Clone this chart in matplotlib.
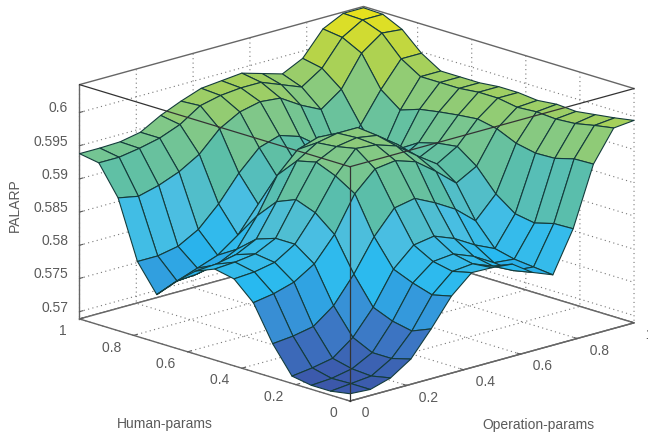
import numpy as np
import matplotlib
matplotlib.use("Agg")
import matplotlib.pyplot as plt
from matplotlib.colors import LinearSegmentedColormap

# axis values (15 x 15 grid like gensurf)
operation = [i / 14 for i in range(15)]
human = [i / 14 for i in range(15)]

# PALARP, rows = Human-params, columns = Operation-params
h00 = [.5700, .5698, .5707, .5727, .5764, .5805, .5832, .5831, .5828, .5807, .5795, .5856, .5945, .5991, .5994]
h01 = [.5695, .5698, .5701, .5719, .5752, .5798, .5825, .5828, .5816, .5801, .5798, .5855, .5944, .5986, .5989]
h02 = [.5695, .5697, .5703, .5719, .5758, .5807, .5831, .5834, .5822, .5804, .5801, .5847, .5936, .5980, .5985]
h03 = [.5700, .5704, .5710, .5733, .5770, .5819, .5847, .5852, .5840, .5822, .5808, .5852, .5935, .5978, .5981]
h04 = [.5740, .5743, .5749, .5772, .5811, .5859, .5894, .5900, .5885, .5867, .5841, .5873, .5941, .5980, .5983]
h05 = [.5793, .5798, .5807, .5826, .5862, .5915, .5944, .5948, .5938, .5915, .5889, .5906, .5954, .5978, .5980]
h06 = [.5820, .5822, .5828, .5847, .5886, .5933, .5966, .5963, .5953, .5930, .5909, .5927, .5960, .5983, .5983]
h07 = [.5826, .5828, .5832, .5847, .5897, .5945, .5960, .5965, .5960, .5938, .5908, .5923, .5957, .5983, .5983]
h08 = [.5814, .5816, .5822, .5837, .5885, .5938, .5957, .5963, .5963, .5938, .5897, .5915, .5953, .5980, .5980]
h09 = [.5790, .5792, .5798, .5813, .5855, .5908, .5938, .5948, .5938, .5915, .5873, .5897, .5948, .5980, .5980]
h10 = [.5761, .5773, .5784, .5795, .5817, .5855, .5885, .5893, .5882, .5862, .5855, .5877, .5938, .5980, .5980]
h11 = [.5802, .5802, .5808, .5825, .5855, .5893, .5923, .5933, .5923, .5900, .5877, .5915, .5960, .5998, .5998]
h12 = [.5889, .5883, .5891, .5903, .5921, .5951, .5968, .5975, .5972, .5953, .5938, .5960, .6006, .6028, .6025]
h13 = [.5933, .5933, .5938, .5945, .5957, .5977, .5984, .5987, .5987, .5975, .5963, .5983, .6021, .6039, .6039]
h14 = [.5938, .5938, .5939, .5945, .5962, .5975, .5986, .5989, .5992, .5983, .5974, .5989, .6025, .6040, .6040]
palarp = [h00, h01, h02, h03, h04, h05, h06, h07, h08, h09, h10, h11, h12, h13, h14]

xy_ticks = [0, 0.2, 0.4, 0.6, 0.8, 1]
xy_labels = ["0", "0.2", "0.4", "0.6", "0.8", "1"]
z_ticks = [0.57, 0.575, 0.58, 0.585, 0.59, 0.595, 0.6]
z_labels = ["0.57", "0.575", "0.58", "0.585", "0.59", "0.595", "0.6"]
z_min, z_max = 0.5689, 0.6042

plt.rcParams["font.family"] = ["Liberation Sans", "DejaVu Sans"]
grey = "#5a5a5a"

cmap = LinearSegmentedColormap.from_list("surf", [
    (0.00, "#3c58aa"), (0.18, "#3c82cd"), (0.33, "#28b9f0"), (0.47, "#4bbee1"),
    (0.60, "#5abeaa"), (0.75, "#82c887"), (0.88, "#afd250"), (1.00, "#e6e11e")])

fig = plt.figure(figsize=(6.48, 4.36), dpi=100)
# square axes wider than the figure height, otherwise the surface gets clipped
ax = fig.add_axes([24 / 648, -100.5 / 436, 1, 648 / 436], projection="3d", computed_zorder=False)
ax.set_proj_type("ortho")
ax.view_init(elev=16.8, azim=-133.6)
ax.set_box_aspect((1, 1, 0.624), zoom=0.9083)

X, Y = np.meshgrid(operation, human)
Z = np.array(palarp)
ax.plot_surface(X, Y, Z, rstride=1, cstride=1, cmap=cmap, vmin=0.5695, vmax=0.604,
                edgecolor="#143c3c", linewidth=0.8, shade=False, zorder=2)

ax.set_xlim(0, 1, view_margin=0)
ax.set_ylim(0, 1, view_margin=0)
ax.set_zlim(z_min, z_max, view_margin=0)
# the spaces push the labels sideways, away from the corner
ax.set_xticks(xy_ticks)
ax.set_xticklabels(["  " + s for s in xy_labels], ha="left")
ax.set_yticks(xy_ticks)
ax.set_yticklabels([s + "  " for s in xy_labels], ha="right")
ax.set_zticks(z_ticks)
ax.set_zticklabels(z_labels, ha="right", va="baseline")

for axis in (ax.xaxis, ax.yaxis, ax.zaxis):
    axis.set_pane_color((1, 1, 1, 1))
    axis.pane.set_edgecolor("#666666")
    axis.pane.set_linewidth(1.0)
    axis.line.set_color("#666666")
    axis.line.set_linewidth(1.0)
    axis._axinfo["grid"].update(color="#777777", linewidth=0.8, linestyle=(0, (1, 3)))
    axis._axinfo["tick"].update(inward_factor=0.0, outward_factor=0.15, linewidth={True: 0.8, False: 0.5})
    axis._axinfo["tick"]["color"] = "#666666"
ax.tick_params(axis="both", labelsize=10, labelcolor=grey, colors=grey, pad=-4)
ax.tick_params(axis="z", pad=-3)

# box lines in front of the surface, like box on in matlab
box = dict(color="#333333", linewidth=0.9, zorder=5)
ax.plot([0, 0], [0, 0], [z_min, z_max], **box)
ax.plot([0, 1], [0, 0], [z_max, z_max], **box)
ax.plot([0, 0], [0, 1], [z_max, z_max], **box)

fig.text(165 / 648, 1 - 424 / 436, "Human-params", fontsize=10, color=grey, ha="center", va="center")
fig.text(538 / 648, 1 - 425 / 436, "Operation-params", fontsize=10, color=grey, ha="center", va="center")
fig.text(15 / 648, 1 - 205 / 436, "PALARP", fontsize=10, color=grey, rotation=90, ha="center", va="center")

fig.savefig("out.png", dpi=100)
